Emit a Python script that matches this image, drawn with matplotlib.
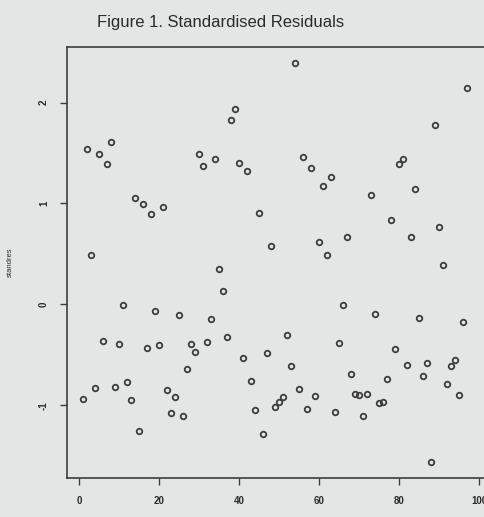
import numpy as np
import matplotlib.pyplot as plt

# standardised residuals read off the scanned figure, observation index 1..97
# (the scan is cropped on the right, the last few points fall outside it)
index = np.arange(1, 98)
standres = [
    -0.94, 1.54, 0.49, -0.83, 1.49, -0.36, 1.39, 1.61, -0.82, -0.39,
    -0.01, -0.77, -0.95, 1.05, -1.25, 0.99, -0.43, 0.90, -0.07, -0.40,
    0.96, -0.85, -1.08, -0.92, -0.11, -1.11, -0.64, -0.39, -0.47, 1.49,
    1.37, -0.37, -0.14, 1.44, 0.35, 0.13, -0.32, 1.83, 1.94, 1.40,
    -0.53, 1.32, -0.76, -1.05, 0.91, -1.28, -0.48, 0.58, -1.02, -0.97,
    -0.92, -0.30, -0.61, 2.39, -0.84, 1.46, -1.04, 1.35, -0.91, 0.62,
    1.17, 0.49, 1.26, -1.07, -0.38, -0.01, 0.67, -0.69, -0.89, -0.90,
    -1.11, -0.89, 1.08, -0.10, -0.98, -0.97, -0.74, 0.84, -0.44, 1.39,
    1.44, -0.60, 0.67, 1.14, -0.13, -0.71, -0.58, -1.56, 1.78, 0.77,
    0.39, -0.79, -0.61, -0.55, -0.90, -0.17, 2.14,
]
xticks = [0, 20, 40, 60, 80, 100]
yticks = [-1, 0, 1, 2]

paper = '#e4e6e6'
ink = '#3c3c3c'
plt.rcParams['font.family'] = ['Liberation Sans', 'DejaVu Sans']

fig = plt.figure(figsize=(4.84, 5.17), dpi=100, facecolor=paper)
# axes run past the right edge on purpose, the scan is cropped there
ax = fig.add_axes([67 / 484, 1 - 478 / 517, 428 / 484, 431 / 517])
ax.set_facecolor(paper)

ax.plot(index, standres, linestyle='none', marker='o', markersize=4,
        markerfacecolor='none', markeredgecolor=ink, markeredgewidth=1.3)

ax.set_xlim(-2.96, 103.96)
ax.set_ylim(-1.72, 2.55)
ax.set_xticks(xticks)
ax.set_yticks(yticks)
ax.set_yticklabels([str(t) for t in yticks], rotation=90, va='center')
ax.tick_params(direction='out', length=5, width=1, color=ink,
               labelsize=7, labelcolor='#2a2a2a', pad=8)
for lbl in ax.get_xticklabels() + ax.get_yticklabels():
    lbl.set_fontweight('bold')
for s in ax.spines.values():
    s.set_color(ink)
    s.set_linewidth(1.2)

ax.set_ylabel('standres', fontsize=5.5, color='#2a2a2a', labelpad=18)
fig.text(97 / 484, 1 - 23 / 517, 'Figure 1. Standardised Residuals',
         fontsize=12, color='#2a2a2a', va='center', ha='left')

fig.savefig('out.png', dpi=100, facecolor=paper)
